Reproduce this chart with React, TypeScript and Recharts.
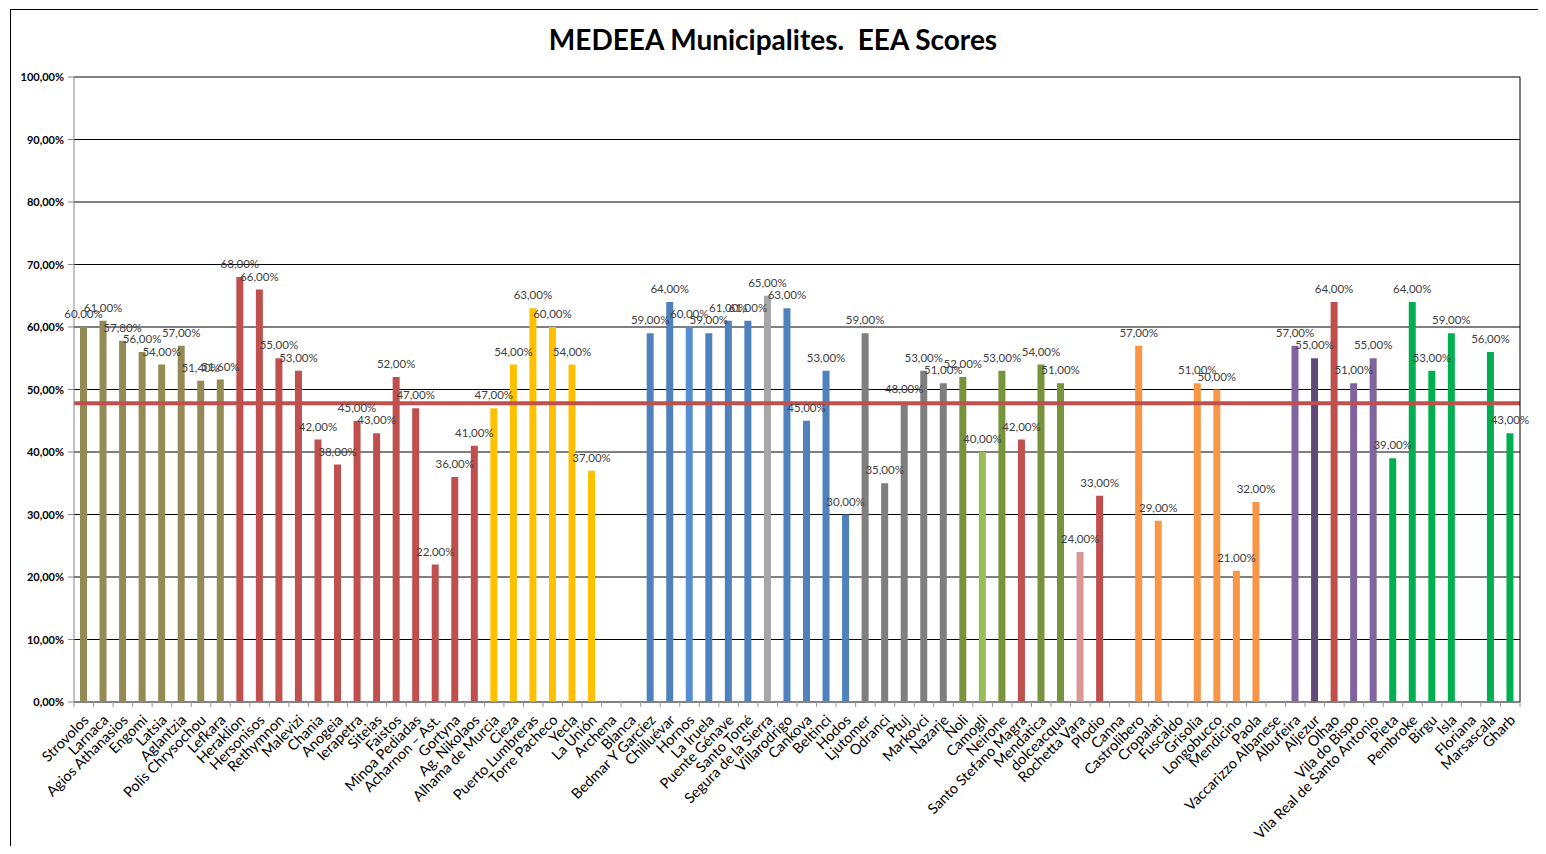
import React from "react";
import {
  BarChart,
  Bar,
  XAxis,
  YAxis,
  CartesianGrid,
  ReferenceLine,
  LabelList,
  Cell,
} from "recharts";

const categories = [
  "Strovolos", "Larnaca", "Agios Athanasios", "Engomi", "Latsia", "Aglantzia", "Polis Chrysochou", "Lefkara",
  "Heraklion", "Hersonisos", "Rethymnon", "Malevizi", "Chania", "Anogeia", "Ierapetra", "Siteias", "Faistos",
  "Minoa Pediadas", "Acharnon – Ast.", "Gortyna", "Ag. Nikolaos",
  "Alhama de Murcia", "Cieza", "Puerto Lumbreras", "Torre Pacheco", "Yecla", "La Unión", "Archena", "Blanca",
  "Bedmar Y Garcíez", "Chilluévar", "Hornos", "La Iruela", "Puente Génave", "Santo Tomé", "Segura de la Sierra",
  "Villarodrigo",
  "Cankova", "Beltinci", "Hodos", "Ljutomer", "Odranci", "Ptuj", "Markovci", "Nazarje",
  "Noli", "Camogli", "Neirone", "Santo Stefano Magra", "Mendatica", "dolceacqua", "Rochetta Vara", "Plodio",
  "Canna", "Castrolibero", "Cropalati", "Fuscaldo", "Grisolia", "Longobucco", "Mendicino", "Paola",
  "Vaccarizzo Albanese",
  "Albufeira", "Aljezur", "Olhao", "Vila do Bispo", "Vila Real de Santo Antonio",
  "Pieta", "Pembroke", "Birgu", "Isla", "Floriana", "Marsascala", "Gharb",
];

const scores: (number | null)[] = [
  60, 61, 57.8, 56, 54, 57, 51.4, 51.6,
  68, 66, 55, 53, 42, 38, 45, 43, 52,
  47, 22, 36, 41,
  47, 54, 63, 60, 54, 37, null, null,
  59, 64, 60, 59, 61, 61, 65,
  63,
  45, 53, 30, 59, 35, 48, 53, 51,
  52, 40, 53, 42, 54, 51, 24, 33,
  null, 57, 29, null, 51, 50, 21, 32,
  null,
  57, 55, 64, 51, 55,
  39, 64, 53, 59, null, 56, 43,
];

const AVERAGE = 47.8;
const yTicks = [0, 10, 20, 30, 40, 50, 60, 70, 80, 90, 100];

const OL = "#948A54", RD = "#C0504D", YE = "#FFC000", BL = "#4F81BD", LB = "#558ED5", LG = "#A6A6A6",
  DG = "#7F7F7F", GR = "#77933C", LGR = "#9BBB59", PK = "#D99694", OR = "#F79646", PU = "#8064A2",
  DPU = "#604A7B", BG = "#00B050";

const barColors = [
  OL, OL, OL, OL, OL, OL, OL, OL,
  RD, RD, RD, RD, RD, RD, RD, RD, RD,
  RD, RD, RD, RD,
  YE, YE, YE, YE, YE, YE, YE, YE,
  BL, BL, LB, BL, BL, BL, LG,
  BL,
  BL, BL, BL, DG, DG, DG, DG, DG,
  GR, LGR, GR, RD, GR, GR, PK, RD,
  OR, OR, OR, OR, OR, OR, OR, OR,
  PU,
  PU, DPU, RD, PU, PU,
  BG, BG, BG, BG, BG, BG, BG,
];

const data = categories.map((name, i) => ({ name, score: scores[i] }));

const fmt = (v: number) => v.toFixed(2).replace(".", ",") + "%";

const FONT = "Lato, 'Open Sans', sans-serif";

const XTick = (props: any) => {
  const { x, y, payload, index } = props;
  const half = payload && payload.offset ? payload.offset : 9.77;
  return (
    <g>
      <line x1={x - half} y1={y} x2={x - half} y2={y + 5} stroke="#9a9a9a" strokeWidth={1} />
      {index === categories.length - 1 ? (
        <line x1={x + half} y1={y} x2={x + half} y2={y + 5} stroke="#9a9a9a" strokeWidth={1} />
      ) : null}
      <text
        transform={`translate(${x + 6},${y + 19}) rotate(-45)`}
        textAnchor="end"
        fontSize={14.5}
        fontFamily={FONT}
        fill="#000"
      >
        {payload.value}
      </text>
    </g>
  );
};

const YTick = (props: any) => {
  const { x, y, payload } = props;
  return (
    <text x={x} y={y + 4} textAnchor="end" fontSize={11} fontWeight="bold" fontFamily={FONT} fill="#000">
      {fmt(payload.value)}
    </text>
  );
};

const renderLabel = (props: any) => {
  const { x, y, width, value } = props;
  if (value == null) return null;
  return (
    <text x={x + width / 2} y={y - 9} textAnchor="middle" fontSize={11.5} fontFamily={FONT} fill="#404040">
      {fmt(value)}
    </text>
  );
};

export default function App() {
  return (
    <div style={{ position: "relative", margin: -8, width: 1546, height: 854, background: "#fff" }}>
      <div
        style={{
          position: "absolute",
          left: 10,
          top: 9,
          width: 1529,
          height: 843,
          border: "1px solid #000",
          boxSizing: "border-box",
        }}
      />
      <div
        style={{
          position: "absolute",
          left: 0,
          top: 22,
          width: 1546,
          textAlign: "center",
          fontFamily: FONT,
          fontWeight: "bold",
          fontSize: 28,
          color: "#000",
          whiteSpace: "pre",
        }}
      >
        {"MEDEEA Municipalites.  EEA Scores"}
      </div>
      <div style={{ position: "absolute", left: 0, top: 0 }}>
        <BarChart
          width={1546}
          height={854}
          data={data}
          margin={{ top: 77, right: 0, bottom: 0, left: 0 }}
          barCategoryGap={0}
        >
          <CartesianGrid vertical={false} stroke="#000" strokeWidth={1} />
          <XAxis
            dataKey="name"
            interval={0}
            tickLine={false}
            tickSize={0}
            tickMargin={0}
            axisLine={{ stroke: "#868686" }}
            tick={<XTick />}
            height={152}
          />
          <YAxis
            domain={[0, 100]}
            ticks={yTicks}
            width={74}
            axisLine={{ stroke: "#868686" }}
            tickLine={{ stroke: "#868686" }}
            tickSize={6}
            tickMargin={4}
            tick={<YTick />}
          />
          <YAxis
            yAxisId="right"
            orientation="right"
            domain={[0, 100]}
            width={26}
            tick={false}
            tickLine={false}
            axisLine={{ stroke: "#000" }}
          />
          <Bar dataKey="score" barSize={7} isAnimationActive={false}>
            {data.map((_, i) => (
              <Cell key={i} fill={barColors[i]} />
            ))}
            <LabelList dataKey="score" content={renderLabel} />
          </Bar>
          <ReferenceLine y={AVERAGE} stroke="#C0504D" strokeWidth={4} />
        </BarChart>
      </div>
    </div>
  );
}
